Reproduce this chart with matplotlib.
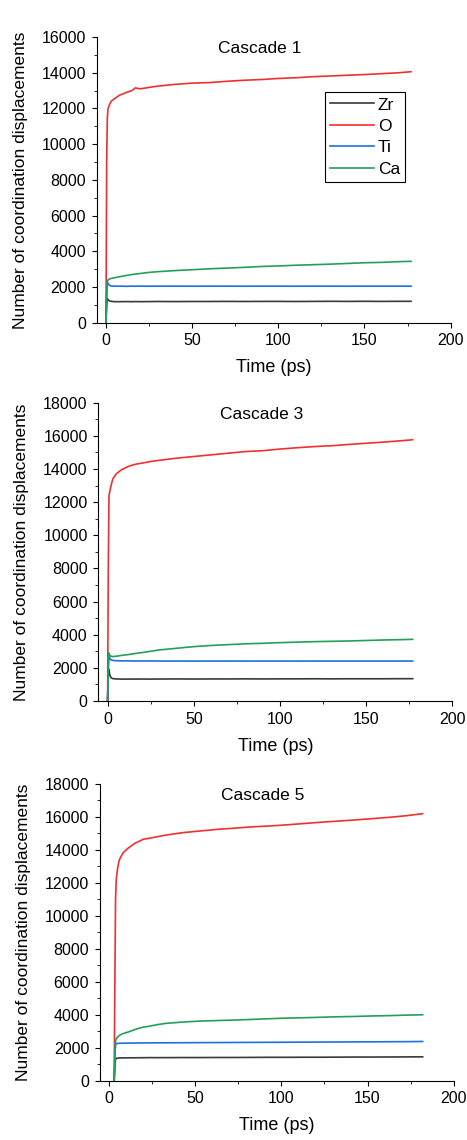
import matplotlib
matplotlib.use('Agg')
from matplotlib import pyplot as plt
from matplotlib.ticker import MultipleLocator

plt.rcParams['font.family'] = ['Liberation Sans', 'DejaVu Sans']

# Cascade 1
t1 = [0, 0.4, 0.8, 1.2, 2, 3, 5, 8, 12, 15, 17, 20, 25, 30, 40, 50, 60, 70,
      80, 90, 100, 110, 120, 130, 140, 150, 160, 170, 177]
zr1 = [0, 1000, 1350, 1300, 1220, 1200, 1180, 1180, 1185, 1180, 1185, 1180,
       1185, 1190, 1185, 1190, 1190, 1195, 1190, 1195, 1195, 1190, 1195, 1200,
       1195, 1200, 1195, 1200, 1200]
o1 = [0, 9000, 11500, 12000, 12200, 12400, 12550, 12750, 12900, 13000, 13150,
      13100, 13180, 13250, 13350, 13420, 13450, 13520, 13580, 13620, 13680,
      13720, 13780, 13820, 13860, 13900, 13950, 14000, 14060]
ti1 = [0, 1500, 2250, 2200, 2100, 2060, 2050, 2050, 2040, 2050, 2045, 2050,
       2045, 2050, 2050, 2045, 2050, 2050, 2045, 2050, 2050, 2045, 2050, 2050,
       2045, 2050, 2050, 2050, 2050]
ca1 = [0, 1500, 2300, 2400, 2450, 2480, 2520, 2580, 2650, 2700, 2720, 2760,
       2820, 2860, 2920, 2970, 3020, 3060, 3100, 3150, 3180, 3220, 3250, 3280,
       3320, 3360, 3380, 3420, 3440]

# Cascade 3
t3 = [0, 0.4, 0.8, 1.2, 2, 3, 5, 8, 12, 15, 17, 20, 25, 30, 40, 50, 60, 70,
      80, 90, 100, 110, 120, 130, 140, 150, 160, 170, 177]
zr3 = [0, 1500, 1900, 1600, 1400, 1350, 1330, 1320, 1320, 1325, 1320, 1325,
       1320, 1325, 1330, 1325, 1330, 1330, 1335, 1330, 1335, 1335, 1340, 1335,
       1340, 1340, 1340, 1345, 1345]
o3 = [0, 8000, 12400, 12600, 13000, 13400, 13700, 13950, 14150, 14250, 14300,
      14350, 14450, 14520, 14650, 14750, 14850, 14950, 15050, 15100, 15200,
      15280, 15350, 15400, 15480, 15550, 15620, 15700, 15760]
ti3 = [0, 2000, 2800, 2600, 2480, 2450, 2430, 2420, 2420, 2410, 2415, 2410,
       2415, 2410, 2410, 2405, 2410, 2410, 2405, 2410, 2410, 2405, 2410, 2410,
       2410, 2410, 2410, 2410, 2410]
ca3 = [0, 2000, 2900, 2750, 2700, 2680, 2700, 2750, 2800, 2850, 2880, 2920,
       3000, 3080, 3180, 3280, 3350, 3400, 3450, 3480, 3520, 3550, 3580, 3600,
       3620, 3650, 3680, 3700, 3720]

# Cascade 5
t5 = [3, 3.4, 3.8, 4.2, 5, 6, 8, 11, 15, 18, 20, 23, 28, 33, 43, 53, 63, 73,
      83, 93, 103, 113, 123, 133, 143, 153, 163, 173, 182]
zr5 = [0, 900, 1300, 1350, 1370, 1380, 1385, 1390, 1390, 1395, 1395, 1400,
       1400, 1400, 1405, 1405, 1410, 1410, 1415, 1420, 1420, 1425, 1425, 1430,
       1435, 1435, 1440, 1445, 1450]
o5 = [0, 6000, 11000, 12200, 12900, 13400, 13800, 14100, 14400, 14550, 14650,
      14700, 14800, 14900, 15050, 15150, 15250, 15320, 15400, 15450, 15520,
      15600, 15680, 15750, 15820, 15900, 15980, 16080, 16200]
ti5 = [0, 1500, 2200, 2250, 2260, 2270, 2275, 2280, 2285, 2290, 2290, 2295,
       2300, 2300, 2305, 2310, 2315, 2320, 2325, 2330, 2335, 2340, 2345, 2350,
       2355, 2360, 2365, 2370, 2380]
ca5 = [0, 1500, 2400, 2550, 2650, 2750, 2850, 2950, 3100, 3200, 3250, 3300,
       3400, 3480, 3560, 3620, 3650, 3680, 3720, 3760, 3800, 3820, 3850, 3880,
       3900, 3930, 3950, 3980, 4000]

panels = [
    ('Cascade 1', t1, [zr1, o1, ti1, ca1], 16000, [0.207, 0.7169, 0.758, 0.2506]),
    ('Cascade 3', t3, [zr3, o3, ti3, ca3], 18000, [0.2105, 0.3851, 0.758, 0.2617]),
    ('Cascade 5', t5, [zr5, o5, ti5, ca5], 18000, [0.2135, 0.0520, 0.758, 0.2603]),
]
names = ['Zr', 'O', 'Ti', 'Ca']
colors = ['#3a3a3a', '#f03030', '#1f6fe0', '#22a05a']

fig = plt.figure(figsize=(4.67, 11.4), dpi=100)

for i, (title, t, series, ymax, pos) in enumerate(panels):
    ax = fig.add_axes(pos)
    for name, vals, c in zip(names, series, colors):
        ax.plot(t, vals, color=c, lw=1.2, label=name)
    ax.set_xlim(-5.4, 200)
    ax.set_ylim(0, ymax)
    ax.xaxis.set_major_locator(MultipleLocator(50))
    ax.xaxis.set_minor_locator(MultipleLocator(25))
    ax.yaxis.set_major_locator(MultipleLocator(2000))
    ax.yaxis.set_minor_locator(MultipleLocator(1000))
    ax.spines['top'].set_visible(False)
    ax.spines['right'].set_visible(False)
    ax.tick_params(which='both', direction='out', labelsize=11.5, pad=4)
    ax.tick_params(which='major', length=3.6)
    ax.tick_params(which='minor', length=2.2)
    ax.set_xlabel('Time (ps)', fontsize=13, labelpad=8)
    ax.set_ylabel('Number of coordination displacements', fontsize=12.5,
                  labelpad=10)
    ax.text(0.46, 0.985, title, transform=ax.transAxes, ha='center',
            va='top', fontsize=12.5)
    if i == 0:
        leg = ax.legend(loc='upper left', bbox_to_anchor=(0.645, 0.807),
                        fontsize=12.5, handlelength=2.5, fancybox=False,
                        edgecolor='black', framealpha=1, borderpad=0.3,
                        labelspacing=0.36, handletextpad=0.25,
                        borderaxespad=0)
        leg.get_frame().set_linewidth(0.8)

fig.savefig('out.png', dpi=100)
